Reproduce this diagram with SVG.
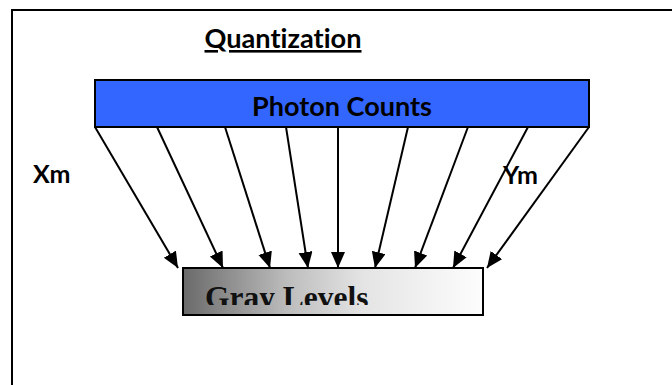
<svg xmlns="http://www.w3.org/2000/svg" width="672" height="385" viewBox="0 0 672 385">
  <style>
    .sans { font-family: Lato, "Open Sans", "Liberation Sans", sans-serif; font-weight: bold; fill: #000; font-variant-ligatures: none; }
    .serif { font-family: "Liberation Serif", "Times New Roman", serif; font-weight: bold; fill: #111; }
    .box { stroke: #000; stroke-width: 2; }
    .conn { stroke: #000; stroke-width: 2; fill: none; marker-end: url(#arrow); }
  </style>
  <defs>
    <marker id="arrow" markerUnits="userSpaceOnUse" markerWidth="17" markerHeight="15" refX="16" refY="7" orient="auto">
      <path d="M0,0 L16,7 L0,14 Z" fill="#000"/>
    </marker>
    <linearGradient id="grayGrad" x1="0" y1="0" x2="1" y2="0">
      <stop offset="0" stop-color="#6a6a6a"/>
      <stop offset="0.35" stop-color="#bdbdbd"/>
      <stop offset="0.6" stop-color="#e4e4e4"/>
      <stop offset="1" stop-color="#fdfdfd"/>
    </linearGradient>
    <clipPath id="grayClip">
      <rect x="184" y="269" width="298" height="36"/>
    </clipPath>
  </defs>

  <rect width="672" height="385" fill="#fff"/>

  <g id="frame">
    <rect x="12" y="10" width="700" height="420" fill="none" stroke="#000" stroke-width="2"/>
  </g>

  <g id="title">
    <text class="sans" x="283" y="48" font-size="26" text-anchor="middle" text-decoration="underline" textLength="157" lengthAdjust="spacingAndGlyphs">Quantization</text>
  </g>

  <g id="photon-counts">
    <rect class="box" x="95" y="80" width="494" height="47" fill="#3366ff"/>
    <text class="sans" x="342" y="116" font-size="26" text-anchor="middle" textLength="180" lengthAdjust="spacingAndGlyphs">Photon Counts</text>
  </g>

  <g id="gray-levels">
    <rect class="box" x="183" y="268" width="300" height="47" fill="url(#grayGrad)"/>
    <text class="serif" x="205" y="308" font-size="31.5" clip-path="url(#grayClip)">Gray Levels</text>
  </g>

  <g id="connectors">
    <line class="conn" x1="95" y1="127" x2="178" y2="268"/>
    <line class="conn" x1="157" y1="127" x2="223" y2="268"/>
    <line class="conn" x1="225" y1="127" x2="270" y2="268"/>
    <line class="conn" x1="286" y1="127" x2="308" y2="268"/>
    <line class="conn" x1="338" y1="127" x2="338" y2="268"/>
    <line class="conn" x1="408" y1="127" x2="375" y2="268"/>
    <line class="conn" x1="468" y1="127" x2="415" y2="268"/>
    <line class="conn" x1="528" y1="127" x2="453" y2="268"/>
    <line class="conn" x1="589" y1="127" x2="487" y2="268"/>
  </g>

  <g id="label-xm">
    <text class="sans" x="33" y="183" font-size="25">Xm</text>
  </g>
  <g id="label-ym">
    <text class="sans" x="503" y="184" font-size="25">Ym</text>
  </g>
</svg>
